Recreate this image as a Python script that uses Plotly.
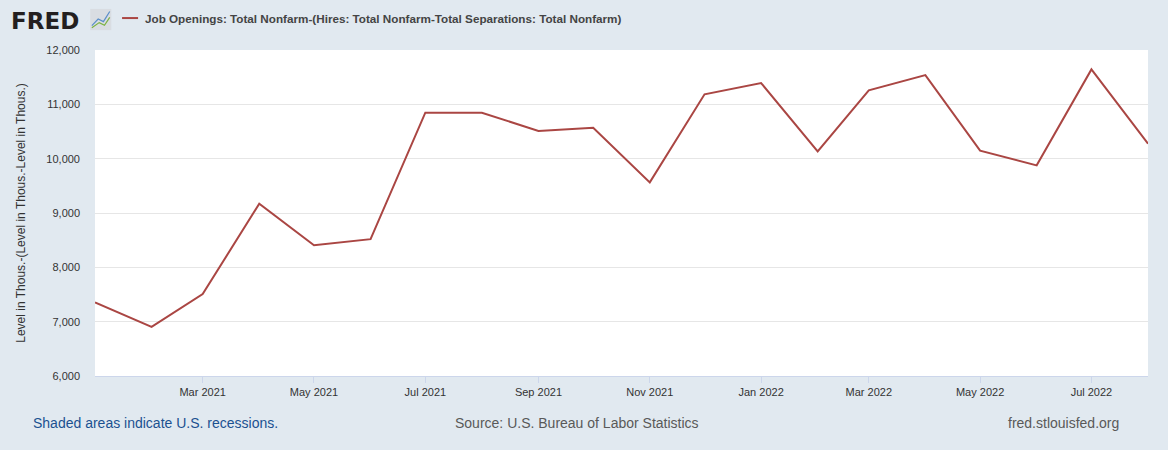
import plotly.graph_objects as go

# monthly observations, thousands
months = [
    "2021-01-01", "2021-02-01", "2021-03-01", "2021-04-01", "2021-05-01",
    "2021-06-01", "2021-07-01", "2021-08-01", "2021-09-01", "2021-10-01",
    "2021-11-01", "2021-12-01", "2022-01-01", "2022-02-01", "2022-03-01",
    "2022-04-01", "2022-05-01", "2022-06-01", "2022-07-01", "2022-08-01",
]
values = [
    7353, 6905, 7508, 9170, 8407,
    8519, 10846, 10846, 10509, 10570,
    9564, 11184, 11392, 10134, 11257,
    11539, 10147, 9877, 11643, 10276,
]
tick_dates = [
    "2021-03-01", "2021-05-01", "2021-07-01", "2021-09-01", "2021-11-01",
    "2022-01-01", "2022-03-01", "2022-05-01", "2022-07-01",
]
y_ticks = [6000, 7000, 8000, 9000, 10000, 11000, 12000]

series_name = "Job Openings: Total Nonfarm-(Hires: Total Nonfarm-Total Separations: Total Nonfarm)"
y_title = "Level in Thous.-(Level in Thous.-Level in Thous.)"

BG = "#e1e9f0"
LINE = "#aa4643"
FONT = "Liberation Sans, Arial, sans-serif"

fig = go.Figure()
fig.add_trace(go.Scatter(
    x=months, y=values, mode="lines", name=series_name,
    line=dict(color=LINE, width=2),
))

fig.update_layout(
    width=1168,
    height=450,
    paper_bgcolor=BG,
    plot_bgcolor="white",
    margin=dict(l=95, r=20, t=50, b=74),
    showlegend=False,
    font=dict(family=FONT, size=11, color="#333333"),
    xaxis=dict(
        range=[months[0], months[-1]],
        tickvals=tick_dates,
        tickformat="%b %Y",
        showgrid=False,
        showline=True,
        linecolor="#ccd6eb",
        ticks="outside",
        ticklen=6,
        tickcolor="#ccd6eb",
        tickfont=dict(size=11, color="#333333"),
        zeroline=False,
    ),
    yaxis=dict(
        range=[6000, 12000],
        tickvals=y_ticks,
        tickformat=",",
        gridcolor="#e6e6e6",
        gridwidth=1,
        zeroline=False,
        ticks="",
        ticklabelstandoff=14,
        tickfont=dict(size=11, color="#333333"),
        title=dict(text=y_title, font=dict(size=12, color="#333333"), standoff=18),
    ),
)

# header: logo and series legend (paper coords, plot area 1053 x 326 px)
fig.add_annotation(
    xref="paper", yref="paper", x=-0.082, y=1.09, xanchor="left", yanchor="middle",
    text="<b>FRED</b>", showarrow=False,
    font=dict(family="DejaVu Sans, Arial Black, sans-serif", size=23, color="#231f20"),
)
fig.add_shape(
    type="rect", xref="paper", yref="paper",
    x0=-0.0045, x1=0.0155, y0=1.061, y1=1.126,
    fillcolor="#d9dde2", line=dict(width=0),
)
fig.add_shape(
    type="path", xref="paper", yref="paper",
    path="M -0.003 1.075 L 0.003 1.095 L 0.008 1.087 L 0.014 1.118",
    line=dict(color="#5b8fc9", width=1.2),
)
fig.add_shape(
    type="path", xref="paper", yref="paper",
    path="M -0.003 1.068 L 0.004 1.084 L 0.009 1.076 L 0.014 1.1",
    line=dict(color="#7cb342", width=1.2),
)
fig.add_shape(
    type="line", xref="paper", yref="paper",
    x0=0.0257, x1=0.0409, y0=1.098, y1=1.098,
    line=dict(color=LINE, width=2),
)
fig.add_annotation(
    xref="paper", yref="paper", x=0.046, y=1.098, xanchor="left", yanchor="middle",
    text="<b>" + series_name + "</b>", showarrow=False,
    font=dict(family=FONT, size=11.7, color="#444444"),
)

# footer
fig.add_annotation(
    xref="paper", yref="paper", x=-0.061, y=-0.145, xanchor="left", yanchor="middle",
    text="Shaded areas indicate U.S. recessions.", showarrow=False,
    font=dict(family=FONT, size=14, color="#1b5190"),
)
fig.add_annotation(
    xref="paper", yref="paper", x=0.340, y=-0.145, xanchor="left", yanchor="middle",
    text="Source: U.S. Bureau of Labor Statistics", showarrow=False,
    font=dict(family=FONT, size=14, color="#595959"),
)
fig.add_annotation(
    xref="paper", yref="paper", x=0.9745, y=-0.145, xanchor="right", yanchor="middle",
    text="fred.stlouisfed.org", showarrow=False,
    font=dict(family=FONT, size=14, color="#595959"),
)

# drop the default page margin so the figure sits flush in the window
fig.write_html(
    "out.html",
    config={"displayModeBar": False},
    post_script="document.body.style.margin='0';document.body.style.background='%s';" % BG,
)
